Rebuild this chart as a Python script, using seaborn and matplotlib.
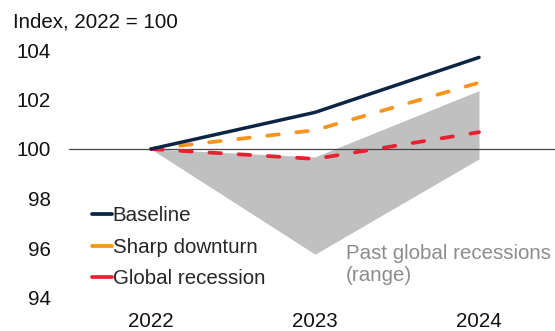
import matplotlib
matplotlib.use("Agg")
import matplotlib.pyplot as plt
import seaborn as sns
import pandas as pd

years = [2022, 2023, 2024]
baseline = [100.0, 101.48, 103.7]
sharp_downturn = [100.0, 100.76, 102.68]
global_recession = [100.0, 99.6, 100.68]
past_low = [100.0, 95.75, 99.6]
past_high = [100.0, 99.68, 102.36]
yticks = [94, 96, 98, 100, 102, 104]

sns.set_theme(style="white")
plt.rcParams['font.family'] = ['Liberation Sans', 'DejaVu Sans']

W, H = 555, 331
fig = plt.figure(figsize=(W/100, H/100), dpi=100)
ax = fig.add_axes([69/W, (H-304)/H, 1-69/W, (304-39)/H])

ax.fill_between(years, past_low, past_high, color="#c0c0c0", linewidth=0, zorder=1)
ax.axhline(100, color="#444444", linewidth=0.9, zorder=2)

dash = (0, (3.1, 4.7))
sns.lineplot(x=years, y=baseline, ax=ax, color="#0b2545", linewidth=2.5,
             label="Baseline", zorder=5)
sns.lineplot(x=years, y=sharp_downturn, ax=ax, color="#f7941d", linewidth=2.7,
             linestyle=dash, dash_capstyle="round", label="Sharp downturn", zorder=4)
sns.lineplot(x=years, y=global_recession, ax=ax, color="#e8202f", linewidth=2.7,
             linestyle=dash, dash_capstyle="round", label="Global recession", zorder=4)

ax.set_xlim(2021.5, 2024 + 76/164)
ax.set_ylim(100 - 155/24.75, 100 + 110/24.75)
ax.set_xticks(years)
ax.set_xticklabels([str(y) for y in years])
ax.set_yticks(yticks)
ax.set_yticklabels([str(v) for v in yticks])
ax.tick_params(axis='both', length=0, labelsize=14.8, colors="#111111")
ax.tick_params(axis='y', pad=13)
ax.tick_params(axis='x', pad=6)
for s in ax.spines.values():
    s.set_visible(False)
ax.set_xlabel("")
ax.set_ylabel("")

leg = ax.legend(loc="upper left", bbox_to_anchor=((92-69)/(W-69), (304-206)/265),
                frameon=False, fontsize=14.8, handlelength=0.95, handletextpad=0.06,
                labelspacing=0.62, borderaxespad=0, borderpad=0)
for h in leg.get_lines():
    h.set_linestyle("-")
    h.set_linewidth(2.7)
    h.set_solid_capstyle("round")

ax.text(2023.19, 96.15, "Past global recessions\n(range)", color="#8c8c8c",
        fontsize=14.8, va="top", ha="left", linespacing=1.18)

fig.text(13/W, 1-22/H, "Index, 2022 = 100", fontsize=14.8, color="#111111",
         va="center", ha="left")

fig.savefig("out.png", dpi=100)
